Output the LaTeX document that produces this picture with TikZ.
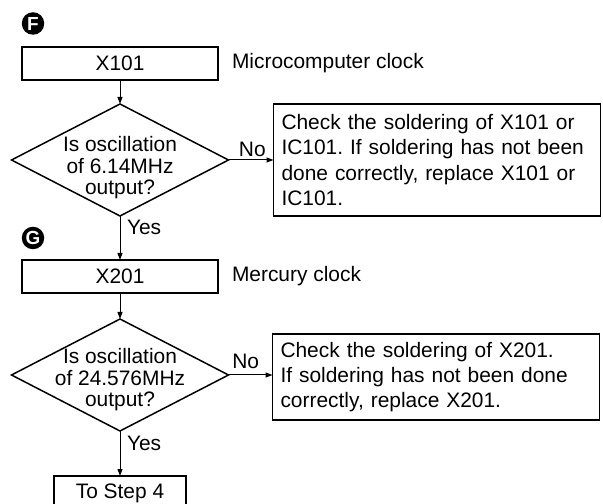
\documentclass[tikz,border=0pt]{standalone}
\usepackage{fontspec}
\setmainfont{Liberation Sans}
\usetikzlibrary{arrows.meta,positioning,shapes.geometric}
\frenchspacing

\begin{document}
\begin{tikzpicture}[
    x=1bp, y=1bp,
    node distance=24bp,
    every node/.style={outer sep=0pt},
    box/.style={draw, line width=1.6bp, minimum width=196bp, minimum height=33bp, inner sep=0pt, font=\fontsize{21}{25}\selectfont},
    query/.style={draw, diamond, line width=1.5bp, minimum width=217bp, minimum height=112bp, inner sep=0pt},
    qtext/.style={align=center, inner sep=0pt, font=\fontsize{21}{21.5}\selectfont},
    note/.style={draw, line width=1.6bp, text width=311bp, inner xsep=8bp, inner ysep=0pt, align=left, font=\fontsize{21}{25.3}\selectfont},
    lbl/.style={inner sep=0pt, font=\fontsize{21}{25}\selectfont},
    marker/.style={circle, fill=black, text=white, minimum size=22.5bp, inner sep=0pt, font=\fontsize{19}{19}\selectfont\bfseries},
    arrow/.style={-{Triangle[length=7bp, width=5bp]}, line width=1bp}
]
    \useasboundingbox (0,0) rectangle (603,504);

    % step F
    \node[marker] (mf) at (33,480.5) {F};
    \node[box] (x101) at (120,440.5) {X101};
    \node[lbl, right=14bp of x101] (x101txt) {Microcomputer clock};
    \node[query, below=of x101, label={[qtext, yshift=-8bp]center:{Is oscillation\\of 6.14MHz\\output?}}] (q1) {};
    \node[note, minimum height=112bp, right=45bp of q1] (c1) {Check the soldering of X101 or\\IC101. If soldering has not been\\done correctly, replace X101 or\\IC101.};

    % step G
    \node[marker] (mg) at (33,266) {G};
    \node[box, below=44bp of q1] (x201) {X201};
    \node[lbl, right=14bp of x201] (x201txt) {Mercury clock};
    \node[query, below=26bp of x201, label={[qtext, yshift=-5bp]center:{Is oscillation\\of 24.576MHz\\output?}}] (q2) {};
    \node[note, minimum height=86bp, right=44bp of q2, yshift=-2bp] (c2) {Check the soldering of X201.\\If soldering has not been done\\correctly, replace X201.};

    \node[box, minimum width=132bp, minimum height=34bp, below=45bp of q2] (step4) {To Step 4};

    \draw[arrow] (x101) -- (q1);
    \draw[arrow] (q1) -- node[lbl, above=3bp, pos=0.53] (no1) {No} (c1);
    \draw[arrow] (q1) -- node[lbl, right=7bp, pos=0.27] (yes1) {Yes} (x201);
    \draw[arrow] (x201) -- (q2);
    \draw[arrow] (q2.east) -- node[lbl, above=6bp, pos=0.39] (no2) {No} (q2.east -| c2.west);
    \draw[arrow] (q2) -- node[lbl, right=7bp, pos=0.27] (yes2) {Yes} (step4);
\end{tikzpicture}
\end{document}
